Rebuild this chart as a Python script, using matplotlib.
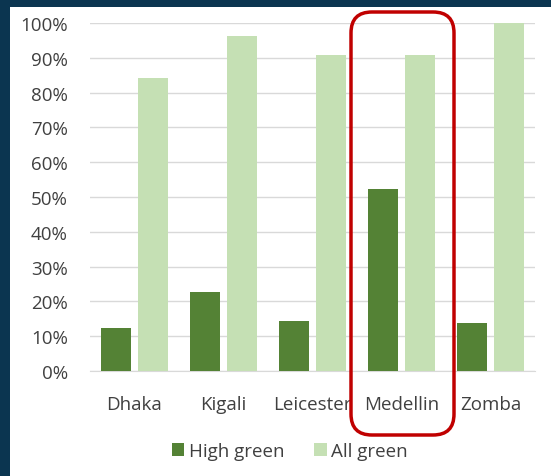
import numpy as np
import matplotlib.pyplot as plt
from matplotlib.patches import Rectangle, FancyBboxPatch
from matplotlib.ticker import PercentFormatter

# Share of green space per city
cities = ["Dhaka", "Kigali", "Leicester", "Medellin", "Zomba"]
high_green = [12.5, 22.7, 14.4, 52.2, 13.9]
all_green = [84.1, 96.3, 90.8, 90.8, 100.0]

dark = "#548235"
light = "#C5E0B4"
navy = "#0B3550"
text_col = "#404040"

plt.rcParams["font.family"] = ["Open Sans", "DejaVu Sans"]

fig = plt.figure(figsize=(5.51, 4.77), dpi=100)
fig.patch.set_facecolor(navy)
# white panel inside the dark frame
fig.patches.append(Rectangle((10 / 551, 0), 1, 1 - 8 / 477,
                             transform=fig.transFigure, facecolor="white",
                             edgecolor="none", zorder=-1))

ax = fig.add_axes([90 / 551, 1 - 372 / 477, 445 / 551, 348 / 477])
ax.set_facecolor("white")

x = np.arange(len(cities))
w = 0.34
ax.bar(x - 0.21, high_green, w, color=dark, label="High green", zorder=3)
ax.bar(x + 0.21, all_green, w, color=light, label="All green", zorder=3)

ax.set_xlim(-0.5, len(cities) - 0.5)
ax.set_ylim(0, 100)
ax.set_yticks(np.arange(0, 101, 10))
ax.yaxis.set_major_formatter(PercentFormatter(decimals=0))
ax.set_xticks(x)
ax.set_xticklabels(cities)
ax.grid(axis="y", color="#D9D9D9", linewidth=1, zorder=0)
for s in ["top", "right", "left"]:
    ax.spines[s].set_visible(False)
ax.spines["bottom"].set_color("#D9D9D9")
ax.tick_params(axis="both", length=0, labelsize=13.5, colors=text_col)
ax.tick_params(axis="y", pad=16)
ax.tick_params(axis="x", pad=17)

leg = fig.legend(loc="center", bbox_to_anchor=(290 / 551, 1 - 452 / 477),
                 ncol=2, frameon=False, fontsize=13.5, handlelength=0.65,
                 handleheight=0.65, handletextpad=0.25, columnspacing=1.6)
for t in leg.get_texts():
    t.set_color(text_col)

# highlight box around Medellin
fig.patches.append(FancyBboxPatch((351 / 551, 1 - 436 / 477), 103 / 551, 423 / 477,
                                  boxstyle="round,pad=0,rounding_size=0.038",
                                  mutation_aspect=551 / 477,
                                  transform=fig.transFigure, facecolor="none",
                                  edgecolor="#C00000", linewidth=2.5, zorder=5))

fig.savefig("out.png", dpi=100, facecolor=fig.get_facecolor())
